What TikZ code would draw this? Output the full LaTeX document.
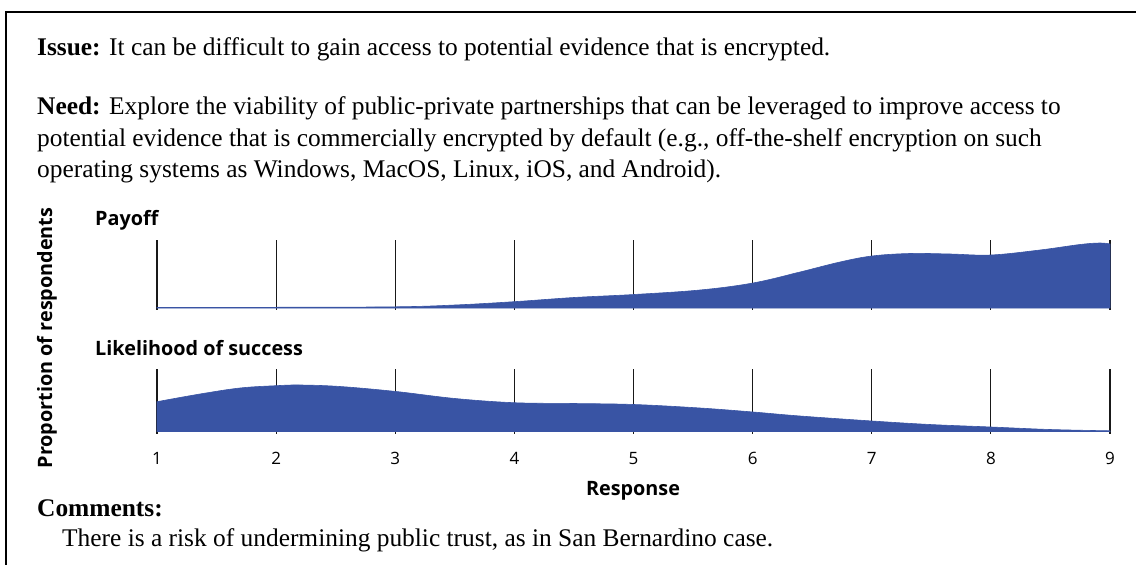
\documentclass[tikz,border=0pt]{standalone}
\usepackage{fontspec}
\setmainfont{Liberation Serif}
\newfontfamily\chartfont{Open Sans}
\usetikzlibrary{positioning}
\definecolor{areablue}{RGB}{57,84,164}

\begin{document}
\begin{tikzpicture}[x=1pt,y=-1pt,
    bodytext/.style={anchor=base west,inner sep=0,font=\fontsize{25.4}{32}\selectfont},
    paneltitle/.style={anchor=base west,inner sep=0,font=\chartfont\bfseries\fontsize{19.8}{22}\selectfont},
    ticknum/.style={anchor=base,inner sep=0,font=\chartfont\fontsize{17}{20}\selectfont},
    tickline/.style={black!90,line width=1.2pt},
    area/.style={fill=areablue,draw=areablue,line width=0.6pt}]
  \useasboundingbox (0,0) rectangle (1136,565);

  % Spacing of the response scale
  \def\gap{119.125}

  % Frame
  \draw[line width=1.5pt] (1136,12) -- (6,12) -- (6,565);

  % Issue and need
  \node[bodytext] (issue) at (37,55) {\textbf{Issue:} It can be difficult to gain access to potential evidence that is encrypted.};
  \node[bodytext] (need1) at (37,114) {\textbf{Need:} Explore the viability of public-private partnerships that can be leveraged to improve access to};
  \node[bodytext] (need2) at (37,146) {potential evidence that is commercially encrypted by default (e.g., off-the-shelf encryption on such};
  \node[bodytext] (need3) at (37,177) {operating systems as Windows, MacOS, Linux, iOS, and Android).};

  % Panel titles and axis labels
  \node[paneltitle] (payoff) at (95,225) {Payoff};
  \node[paneltitle] (likely) at (95,355) {Likelihood of success};
  \node[paneltitle,anchor=center,rotate=90] (ylabel) at (47,338) {Proportion of respondents};
  \node[paneltitle,anchor=base] (xlabel) at (633,495) {Response};

  % Tick lines and numbers
  \foreach \i in {1,...,9} {
    \draw[tickline] ({157+\gap*(\i-1)},240) -- ++(0,70);
    \draw[tickline] ({157+\gap*(\i-1)},369) -- ++(0,65);
    \node[ticknum] (num\i) at ({157+\gap*(\i-1)},464) {\i};
  }

  % Payoff distribution
  \fill[area] (157,308) -- plot[smooth,tension=0.6] coordinates {
    (157,307.5) (276,307.3) (396,306.8) (455,305) (514,301.7) (574,297.5)
    (634,294.5) (700,290) (753,283) (800,272) (840,262) (872,256)
    (910,253.5) (950,254) (991,255) (1040,250) (1080,244.5) (1100,243) (1110,244)}
    -- (1110,308) -- cycle;

  % Likelihood of success distribution
  \fill[area] (157,431.5) -- plot[smooth,tension=0.6] coordinates {
    (157,401.7) (200,394) (240,388) (276,385.7) (300,385) (340,386.5)
    (396,391.5) (455,398.5) (514,402.7) (574,403.5) (634,404.5) (700,408)
    (753,412) (800,416) (872,421) (930,424.5) (991,427) (1050,429.5) (1110,430.8)}
    -- (1110,431.5) -- cycle;

  % Comments
  \node[bodytext] (comments) at (37,516) {\textbf{Comments:}};
  \node[bodytext] (comment1) at (62,546) {There is a risk of undermining public trust, as in San Bernardino case.};
\end{tikzpicture}
\end{document}
